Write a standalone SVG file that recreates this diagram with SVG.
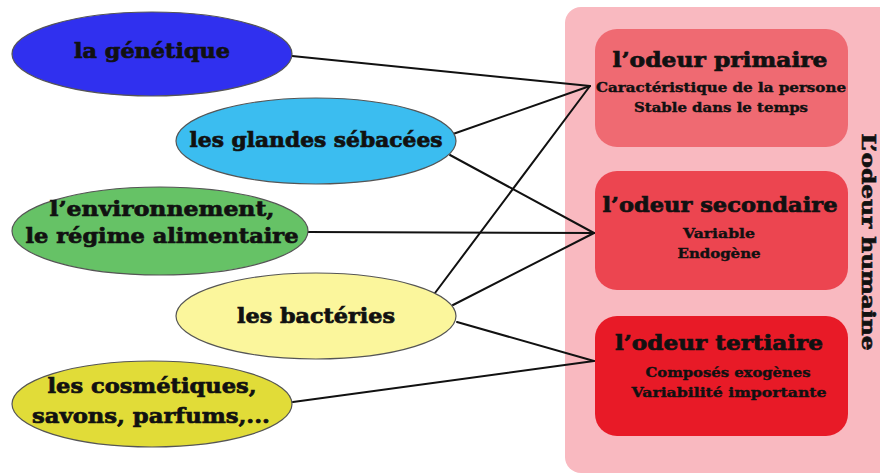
<svg xmlns="http://www.w3.org/2000/svg" width="880" height="475" viewBox="0 0 880 475">
<style>
.t{font-family:"DejaVu Serif","Liberation Serif",serif;font-weight:bold;fill:#111;stroke:#111;text-anchor:middle}
.big{font-size:21px;stroke-width:0.7}
.sm{font-size:13.5px;stroke-width:0.4}
.ell{stroke:#555;stroke-width:1.2}
.box{stroke:none}
.con line{stroke:#111;stroke-width:2;stroke-linecap:round}
</style>
<rect width="880" height="475" fill="#ffffff"/>
<g id="panel">
<rect x="565" y="7" width="330" height="466" rx="16" fill="#f9b9c0"/>
<text class="t" font-size="18" stroke-width="0.6" transform="translate(862,242) rotate(90)" textLength="217" lengthAdjust="spacingAndGlyphs">L’odeur humaine</text>
</g>
<g class="con" id="connectors">
<line x1="292" y1="56" x2="590" y2="86"/>
<line x1="453" y1="134" x2="590" y2="86"/>
<line x1="435" y1="293" x2="590" y2="86"/>
<line x1="450" y1="155" x2="594" y2="233"/>
<line x1="308" y1="232" x2="594" y2="233"/>
<line x1="453" y1="305" x2="594" y2="233"/>
<line x1="457" y1="322" x2="594" y2="361"/>
<line x1="293" y1="402" x2="594" y2="361"/>
</g>
<g id="n-genetique">
<ellipse class="ell" cx="152" cy="54" rx="140" ry="42" fill="#3030ef"/>
<text class="t big" x="152" y="58" textLength="156" lengthAdjust="spacingAndGlyphs">la génétique</text>
</g>
<g id="n-glandes">
<ellipse class="ell" cx="316" cy="141" rx="140" ry="43" fill="#3bbdf0"/>
<text class="t big" x="316" y="147" textLength="253" lengthAdjust="spacingAndGlyphs">les glandes sébacées</text>
</g>
<g id="n-environnement">
<ellipse class="ell" cx="160" cy="231" rx="148" ry="44" fill="#66c266"/>
<text class="t big" x="162" y="216" textLength="225" lengthAdjust="spacingAndGlyphs">l’environnement,</text>
<text class="t big" x="162" y="243" textLength="273" lengthAdjust="spacingAndGlyphs">le régime alimentaire</text>
</g>
<g id="n-bacteries">
<ellipse class="ell" cx="316" cy="316" rx="140" ry="43" fill="#fbf69c"/>
<text class="t big" x="316" y="323" textLength="158" lengthAdjust="spacingAndGlyphs">les bactéries</text>
</g>
<g id="n-cosmetiques">
<ellipse class="ell" cx="152" cy="404" rx="140" ry="43" fill="#e1dc38"/>
<text class="t big" x="152" y="393" textLength="209" lengthAdjust="spacingAndGlyphs">les cosmétiques,</text>
<text class="t big" x="151" y="423" textLength="238" lengthAdjust="spacingAndGlyphs">savons, parfums,...</text>
</g>
<g id="n-primaire">
<rect class="box" x="595" y="29" width="253" height="118" rx="22" fill="#ef6a72"/>
<text class="t big" x="720" y="67" textLength="215" lengthAdjust="spacingAndGlyphs">l’odeur primaire</text>
<text class="t sm" x="721" y="92" textLength="250" lengthAdjust="spacingAndGlyphs">Caractéristique de la persone</text>
<text class="t sm" x="721" y="112" textLength="174" lengthAdjust="spacingAndGlyphs">Stable dans le temps</text>
</g>
<g id="n-secondaire">
<rect class="box" x="595" y="171" width="253" height="119" rx="22" fill="#ec4550"/>
<text class="t big" x="720" y="212" textLength="235" lengthAdjust="spacingAndGlyphs">l’odeur secondaire</text>
<text class="t sm" x="719" y="238" textLength="72" lengthAdjust="spacingAndGlyphs">Variable</text>
<text class="t sm" x="719" y="258" textLength="83" lengthAdjust="spacingAndGlyphs">Endogène</text>
</g>
<g id="n-tertiaire">
<rect class="box" x="595" y="316" width="253" height="120" rx="22" fill="#e81a27"/>
<text class="t big" x="719" y="350" textLength="208" lengthAdjust="spacingAndGlyphs">l’odeur tertiaire</text>
<text class="t sm" x="728" y="377" textLength="165" lengthAdjust="spacingAndGlyphs">Composés exogènes</text>
<text class="t sm" x="729" y="397" textLength="195" lengthAdjust="spacingAndGlyphs">Variabilité importante</text>
</g>
</svg>
